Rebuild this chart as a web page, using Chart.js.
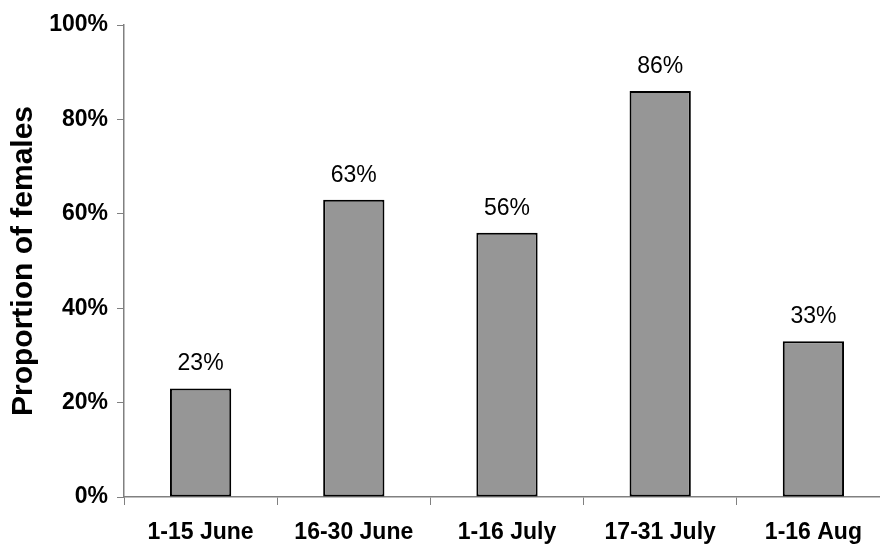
<!DOCTYPE html>
<html lang="en">
<head>
    <meta charset="UTF-8">
    <title>Proportion of females</title>
    <style>
        html, body { margin: 0; padding: 0; background: #fff; overflow: hidden; }
        #wrap { width: 890px; height: 545px; }
    </style>
</head>
<body>

<div id="wrap">
    <canvas id="myChart" width="890" height="545"></canvas>
</div>

<script src="https://cdn.jsdelivr.net/npm/chart.js@4/dist/chart.umd.min.js"></script>
<script>
    var periods = ['1-15 June', '16-30 June', '1-16 July', '17-31 July', '1-16 Aug'];
    var femaleShare = [23, 63, 56, 86, 33];
    var yMax = 100;
    var yStep = 20;

    // writes "NN%" above every bar, using the bar's own position
    var barLabels = {
        id: 'barLabels',
        afterDatasetsDraw: function (chart) {
            var ctx = chart.ctx;
            var meta = chart.getDatasetMeta(0);
            ctx.save();
            ctx.font = '23px "Liberation Sans", Arial, sans-serif';
            ctx.fillStyle = '#000';
            ctx.textAlign = 'center';
            ctx.textBaseline = 'alphabetic';
            meta.data.forEach(function (bar, i) {
                ctx.fillText(femaleShare[i] + '%', bar.x, bar.y - 18);
            });
            ctx.restore();
        }
    };

    var ctx = document.getElementById('myChart').getContext('2d');
    var myChart = new Chart(ctx, {
        type: 'bar',
        data: {
            labels: periods,
            datasets: [{
                data: femaleShare,
                backgroundColor: '#969696',
                borderColor: '#000',
                borderWidth: 2,
                borderSkipped: false,
                categoryPercentage: 1,
                barPercentage: 0.4
            }]
        },
        options: {
            responsive: false,
            animation: false,
            devicePixelRatio: 1,
            layout: { padding: { top: 25, left: 0, right: 0, bottom: 0 } },
            plugins: {
                legend: { display: false },
                tooltip: { enabled: false }
            },
            scales: {
                x: {
                    grid: {
                        offset: true,
                        drawOnChartArea: false,
                        tickLength: 8,
                        color: '#808080',
                        lineWidth: 1
                    },
                    border: { color: '#808080', width: 1.5 },
                    ticks: {
                        color: '#000',
                        padding: 14,
                        maxRotation: 0,
                        font: { family: '"Liberation Sans", Arial, sans-serif', size: 23, weight: 'bold' }
                    },
                    afterFit: function (scale) { scale.height = 48; }
                },
                y: {
                    min: 0,
                    max: yMax,
                    ticks: {
                        stepSize: yStep,
                        color: '#000',
                        padding: 9,
                        font: { family: '"Liberation Sans", Arial, sans-serif', size: 23, weight: 'bold' },
                        callback: function (v) { return v + '%'; }
                    },
                    grid: {
                        drawOnChartArea: false,
                        tickLength: 7,
                        color: '#808080',
                        lineWidth: 1
                    },
                    border: { color: '#808080', width: 1.5 },
                    title: {
                        display: true,
                        text: 'Proportion of females',
                        color: '#000',
                        padding: { top: 6, bottom: 0 },
                        font: { family: '"Liberation Sans", Arial, sans-serif', size: 30, weight: 'bold' }
                    },
                    afterFit: function (scale) { scale.width = 124; }
                }
            }
        },
        plugins: [barLabels]
    });
</script>

</body>
</html>
